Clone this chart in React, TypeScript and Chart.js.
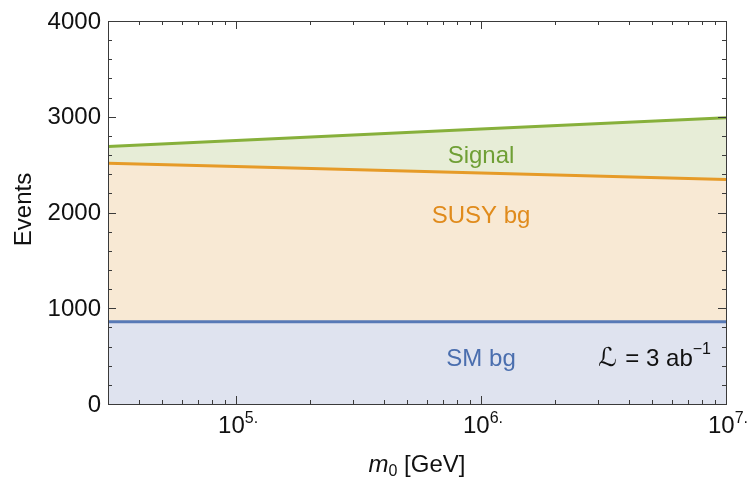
import React, { useEffect, useRef } from "react";
import { Chart, registerables } from "chart.js";
Chart.register(...registerables);

// ---- data ----
const massGeV = [3e4, 1e5, 1e6, 1e7];
const smBgEvents = [860, 860, 860, 860];
const susyBgTop = [2515, 2480, 2412, 2345];
const signalTop = [2690, 2752, 2871, 2990];

const yMajorTicks = [0, 1000, 2000, 3000, 4000];
const xDecadeTicks = [1e5, 1e6, 1e7];
const xDecadeExp = ["5.", "6.", "7."];

const X_MIN = 3e4;
const X_MAX = 1e7;
const Y_MIN = 0;
const Y_MAX = 4000;

const FONT = '"Liberation Sans", Arial, Helvetica, sans-serif';
const FS = 24;
const FSUP = 16;

const framePlugin = {
  id: "mmaFrame",
  afterDraw(chart: any) {
    const ctx = chart.ctx as CanvasRenderingContext2D;
    const xs = chart.scales.x;
    const ys = chart.scales.y;
    const a = chart.chartArea;
    ctx.save();

    // annotations inside plot
    ctx.textAlign = "center";
    ctx.textBaseline = "middle";
    ctx.font = `${FS}px ${FONT}`;
    ctx.fillStyle = "#6f9f35";
    ctx.fillText("Signal", xs.getPixelForValue(1e6), ys.getPixelForValue(2585));
    ctx.fillStyle = "#e08b1c";
    ctx.fillText("SUSY bg", xs.getPixelForValue(1e6), ys.getPixelForValue(1960));
    ctx.fillStyle = "#4a6eae";
    ctx.fillText("SM bg", xs.getPixelForValue(1e6), ys.getPixelForValue(470));

    // luminosity label
    {
      const yb = ys.getPixelForValue(470);
      ctx.fillStyle = "#111";
      ctx.textAlign = "left";
      const fL = `${FS + 2}px "DejaVu Sans", sans-serif`;
      const fT = `${FS}px ${FONT}`;
      const fS = `${FSUP}px ${FONT}`;
      const t = " = 3 ab";
      ctx.font = fL;
      const w1 = ctx.measureText("\u2112").width + 2;
      ctx.font = fT;
      const w2 = ctx.measureText(t).width;
      ctx.font = fS;
      const w3 = ctx.measureText("\u22121").width;
      let x = 711 - (w1 + w2 + w3);
      ctx.font = fL;
      ctx.fillText("\u2112", x, yb);
      x += w1;
      ctx.font = fT;
      ctx.fillText(t, x, yb);
      x += w2;
      ctx.font = fS;
      ctx.fillText("\u22121", x, yb - 9);
    }

    // frame
    ctx.strokeStyle = "#3a3a3a";
    ctx.lineWidth = 1;
    ctx.strokeRect(Math.round(a.left) + 0.5, Math.round(a.top) + 0.5, Math.round(a.right - a.left), Math.round(a.bottom - a.top));

    const tick = (x1: number, y1: number, x2: number, y2: number) => {
      ctx.beginPath();
      ctx.moveTo(x1, y1);
      ctx.lineTo(x2, y2);
      ctx.stroke();
    };

    // y ticks
    for (let v = Y_MIN; v <= Y_MAX; v += 200) {
      const y = Math.round(ys.getPixelForValue(v)) + 0.5;
      const major = v % 1000 === 0;
      const L = major ? 8 : 4;
      tick(a.left, y, a.left + L, y);
      tick(a.right, y, a.right - L, y);
    }
    // x ticks
    for (let k = 4; k <= 7; k++) {
      for (let m = 1; m <= 9; m++) {
        const v = m * Math.pow(10, k);
        if (v < X_MIN || v > X_MAX) continue;
        const x = Math.round(xs.getPixelForValue(v)) + 0.5;
        const L = m === 1 ? 8 : 4;
        tick(x, a.bottom, x, a.bottom - L);
        tick(x, a.top, x, a.top + L);
      }
    }

    // y labels
    ctx.fillStyle = "#111";
    ctx.font = `${FS}px ${FONT}`;
    ctx.textAlign = "right";
    ctx.textBaseline = "middle";
    yMajorTicks.forEach((v) => {
      ctx.fillText(String(v), a.left - 7, ys.getPixelForValue(v) + 1);
    });

    // x labels 10^k.
    xDecadeTicks.forEach((v, i) => {
      const cx = xs.getPixelForValue(v);
      ctx.font = `${FS}px ${FONT}`;
      const wb = ctx.measureText("10").width;
      ctx.font = `${FSUP}px ${FONT}`;
      const we = ctx.measureText(xDecadeExp[i]).width;
      const x0 = cx - (wb + we) / 2 + 2;
      const base = a.bottom + 29;
      ctx.textAlign = "left";
      ctx.textBaseline = "alphabetic";
      ctx.font = `${FS}px ${FONT}`;
      ctx.fillText("10", x0, base);
      ctx.font = `${FSUP}px ${FONT}`;
      ctx.fillText(xDecadeExp[i], x0 + wb, base - 10);
    });

    // x axis title
    {
      const base = a.bottom + 68;
      ctx.textBaseline = "alphabetic";
      ctx.textAlign = "left";
      ctx.font = `italic ${FS}px ${FONT}`;
      const w1 = ctx.measureText("m").width;
      ctx.font = `${FSUP}px ${FONT}`;
      const w2 = ctx.measureText("0").width;
      ctx.font = `${FS}px ${FONT}`;
      const w3 = ctx.measureText(" [GeV]").width;
      const cx = (a.left + a.right) / 2;
      let x = cx - (w1 + w2 + w3) / 2;
      ctx.font = `italic ${FS}px ${FONT}`;
      ctx.fillText("m", x, base);
      x += w1;
      ctx.font = `${FSUP}px ${FONT}`;
      ctx.fillText("0", x, base + 4);
      x += w2;
      ctx.font = `${FS}px ${FONT}`;
      ctx.fillText(" [GeV]", x, base);
    }

    // y axis title
    ctx.save();
    ctx.translate(24, (a.top + a.bottom) / 2 - 3);
    ctx.rotate(-Math.PI / 2);
    ctx.textAlign = "center";
    ctx.textBaseline = "middle";
    ctx.font = `${FS}px ${FONT}`;
    ctx.fillText("Events", 0, 0);
    ctx.restore();

    ctx.restore();
  },
};

export default function App() {
  const ref = useRef<HTMLCanvasElement>(null);
  useEffect(() => {
    document.body.style.margin = "0";
    const toXY = (ys: number[]) => massGeV.map((x, i) => ({ x, y: ys[i] }));
    const chart = new Chart(ref.current as HTMLCanvasElement, {
      type: "line",
      data: {
        datasets: [
          {
            label: "SM bg",
            data: toXY(smBgEvents),
            borderColor: "#5779b6",
            backgroundColor: "#dfe3ef",
            borderWidth: 3,
            pointRadius: 0,
            fill: "origin",
          },
          {
            label: "SUSY bg",
            data: toXY(susyBgTop),
            borderColor: "#e69b28",
            backgroundColor: "#f8e9d4",
            borderWidth: 3,
            pointRadius: 0,
            fill: "-1",
          },
          {
            label: "Signal",
            data: toXY(signalTop),
            borderColor: "#87b03b",
            backgroundColor: "#e7edd7",
            borderWidth: 3,
            pointRadius: 0,
            fill: "-1",
          },
        ],
      },
      options: {
        animation: false,
        responsive: false,
        maintainAspectRatio: false,
        layout: { padding: { left: 108, right: 23, top: 21, bottom: 73 } },
        plugins: { legend: { display: false }, tooltip: { enabled: false } },
        scales: {
          x: { type: "logarithmic", min: X_MIN, max: X_MAX, display: false },
          y: { type: "linear", min: Y_MIN, max: Y_MAX, display: false },
        },
      },
      plugins: [framePlugin],
    });
    return () => chart.destroy();
  }, []);
  return (
    <div style={{ position: "fixed", left: 0, top: 0, width: 749, height: 477, background: "#fff" }}>
      <canvas ref={ref} width={749} height={477} style={{ width: 749, height: 477 }} />
    </div>
  );
}
